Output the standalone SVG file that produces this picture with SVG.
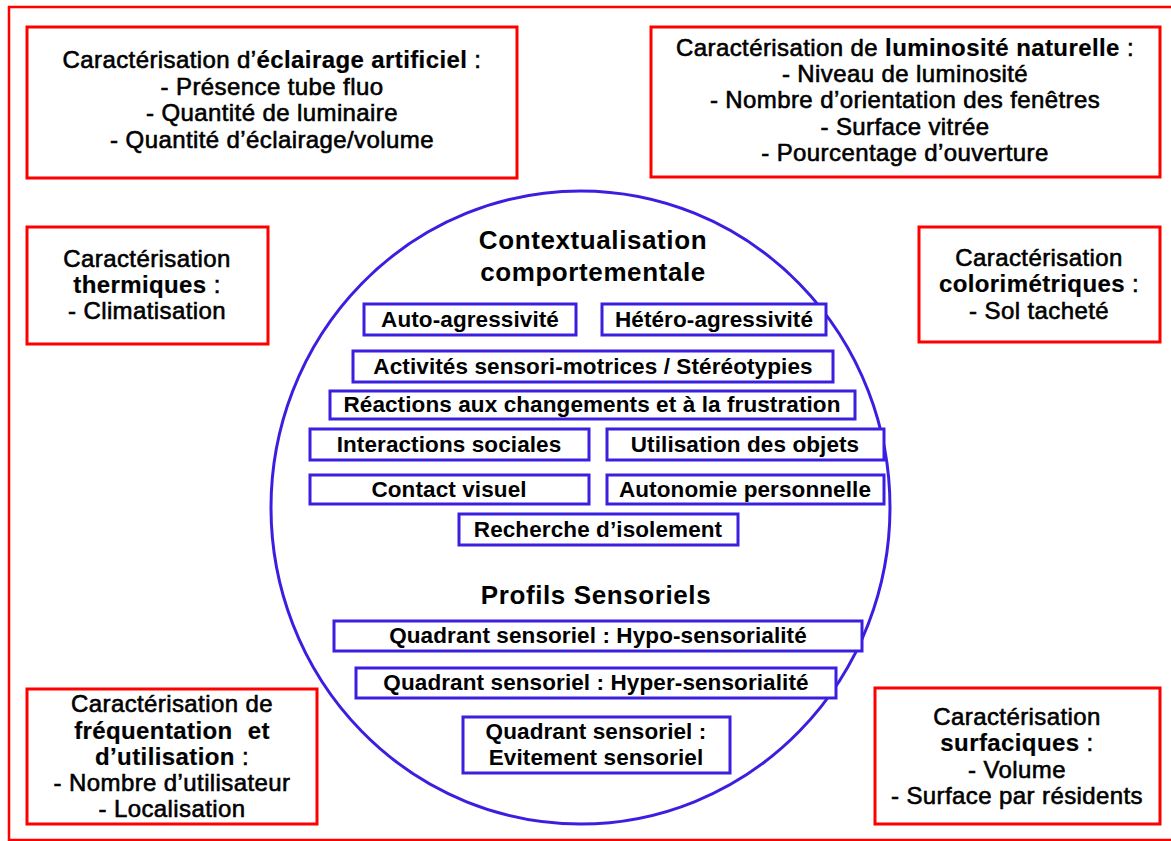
<svg xmlns="http://www.w3.org/2000/svg" width="1171" height="841" viewBox="0 0 1171 841">
<style>
.red{fill:#fff;stroke:#ff0000;stroke-width:3}
.blue{fill:#fff;stroke:#3b1fe0;stroke-width:3}
.rt{font-family:"Liberation Sans",Arial,sans-serif;font-size:24px;fill:#000;text-anchor:middle;stroke:#000;stroke-width:0.6;letter-spacing:0.4px}
.b{font-weight:bold;stroke-width:0.2}
.bt{font-family:"Liberation Sans",Arial,sans-serif;font-size:22.5px;font-weight:bold;fill:#000;text-anchor:middle;letter-spacing:0.1px}
.h{font-family:"Liberation Sans",Arial,sans-serif;font-size:26px;font-weight:bold;fill:#000;text-anchor:middle;letter-spacing:0.6px}
</style>
<rect x="9" y="7" width="1170" height="833" fill="#fff" stroke="#ff0000" stroke-width="2.5"/>
<g id="connectors"></g>
<g id="circle">
<ellipse cx="580.5" cy="507.5" rx="309.5" ry="316.5" fill="#fff" stroke="#3b1fe0" stroke-width="3"/>
<text class="h" x="593" y="249">Contextualisation</text>
<text class="h" x="593" y="281">comportementale</text>
<text class="h" x="596" y="604">Profils Sensoriels</text>
</g>
<g id="eclairage">
<rect class="red" x="27" y="27" width="490" height="151"/>
<text class="rt" x="272" y="68">Caractérisation d’<tspan class="b">éclairage artificiel</tspan> :</text>
<text class="rt" x="272" y="95">- Présence tube fluo</text>
<text class="rt" x="272" y="121">- Quantité de luminaire</text>
<text class="rt" x="272" y="148">- Quantité d’éclairage/volume</text>
</g>
<g id="luminosite">
<rect class="red" x="651" y="27" width="509" height="150"/>
<text class="rt" x="905" y="56">Caractérisation de <tspan class="b">luminosité naturelle</tspan> :</text>
<text class="rt" x="905" y="82">- Niveau de luminosité</text>
<text class="rt" x="905" y="108">- Nombre d’orientation des fenêtres</text>
<text class="rt" x="905" y="135">- Surface vitrée</text>
<text class="rt" x="905" y="161">- Pourcentage d’ouverture</text>
</g>
<g id="thermiques">
<rect class="red" x="27" y="227" width="241" height="117"/>
<text class="rt" x="147" y="267">Caractérisation</text>
<text class="rt" x="147" y="293"><tspan class="b">thermiques</tspan> :</text>
<text class="rt" x="147" y="319">- Climatisation</text>
</g>
<g id="colorimetriques">
<rect class="red" x="919" y="227" width="241" height="115"/>
<text class="rt" x="1039" y="266">Caractérisation</text>
<text class="rt" x="1039" y="292"><tspan class="b">colorimétriques</tspan> :</text>
<text class="rt" x="1039" y="319">- Sol tacheté</text>
</g>
<g id="frequentation">
<rect class="red" x="27" y="689" width="290" height="135"/>
<text class="rt" x="172" y="712">Caractérisation de</text>
<text class="rt b" x="172" y="739" word-spacing="8">fréquentation et</text>
<text class="rt" x="172" y="765"><tspan class="b">d’utilisation</tspan> :</text>
<text class="rt" x="172" y="791">- Nombre d’utilisateur</text>
<text class="rt" x="172" y="817">- Localisation</text>
</g>
<g id="surfaciques">
<rect class="red" x="875" y="688" width="285" height="136"/>
<text class="rt" x="1017" y="725">Caractérisation</text>
<text class="rt" x="1017" y="751"><tspan class="b">surfaciques</tspan> :</text>
<text class="rt" x="1017" y="778">- Volume</text>
<text class="rt" x="1017" y="804">- Surface par résidents</text>
</g>
<g id="auto"><rect class="blue" x="364" y="304" width="212" height="31"/><text class="bt" x="470" y="327">Auto-agressivité</text></g>
<g id="hetero"><rect class="blue" x="602" y="304" width="224" height="31"/><text class="bt" x="714" y="327">Hétéro-agressivité</text></g>
<g id="activites"><rect class="blue" x="353" y="351" width="480" height="31"/><text class="bt" x="593" y="374">Activités sensori-motrices / Stéréotypies</text></g>
<g id="reactions"><rect class="blue" x="330" y="391" width="525" height="28"/><text class="bt" x="592" y="412">Réactions aux changements et à la frustration</text></g>
<g id="interactions"><rect class="blue" x="310" y="429" width="279" height="31"/><text class="bt" x="449" y="452">Interactions sociales</text></g>
<g id="utilisation"><rect class="blue" x="607" y="429" width="277" height="31"/><text class="bt" x="745" y="452">Utilisation des objets</text></g>
<g id="contact"><rect class="blue" x="310" y="475" width="279" height="29"/><text class="bt" x="449" y="497">Contact visuel</text></g>
<g id="autonomie"><rect class="blue" x="607" y="475" width="277" height="29"/><text class="bt" x="745" y="497">Autonomie personnelle</text></g>
<g id="isolement"><rect class="blue" x="459" y="514" width="279" height="31"/><text class="bt" x="598" y="537">Recherche d’isolement</text></g>
<g id="hypo"><rect class="blue" x="334" y="621" width="528" height="30"/><text class="bt" x="598" y="643">Quadrant sensoriel : Hypo-sensorialité</text></g>
<g id="hyper"><rect class="blue" x="356" y="668" width="480" height="30"/><text class="bt" x="596" y="690">Quadrant sensoriel : Hyper-sensorialité</text></g>
<g id="evitement"><rect class="blue" x="463" y="717" width="267" height="56"/><text class="bt" x="596" y="739">Quadrant sensoriel :</text><text class="bt" x="596" y="765">Evitement sensoriel</text></g>
</svg>
